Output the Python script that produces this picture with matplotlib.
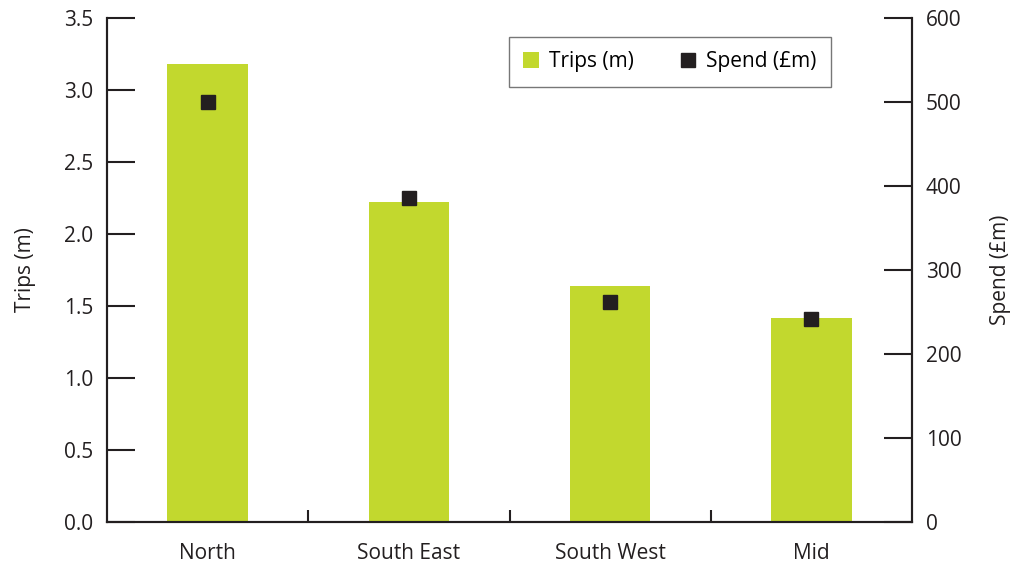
import matplotlib.pyplot as plt
import numpy as np

plt.rcParams['font.family'] = ['Open Sans', 'DejaVu Sans']

regions = ['North', 'South East', 'South West', 'Mid']
trips = [3.18, 2.22, 1.64, 1.42]
spend = [500, 386, 262, 242]

bar_green = '#c2d82e'
ink = '#231f20'
fs = 15

fig = plt.figure(figsize=(10.14, 5.63), dpi=100)
ax = fig.add_axes([0.1055, 0.0728, 0.794, 0.8952])
ax2 = ax.twinx()

x = np.arange(len(regions))
ax.bar(x, trips, width=0.4, color=bar_green, label='Trips (m)', zorder=2)
ax2.plot(x, spend, 's', color=ink, markersize=10, label='Spend (£m)', zorder=3)

ax.set_xlim(-0.5, len(regions) - 0.5)
ax.set_ylim(0, 3.5)
ax.set_yticks(np.arange(0, 3.51, 0.5))
ax.set_yticklabels([f'{v:.1f}' for v in np.arange(0, 3.51, 0.5)])
ax2.set_ylim(0, 600)
ax2.set_yticks(np.arange(0, 601, 100))

ax.set_xticks(x)
ax.set_xticklabels(regions)
ax.set_xticks(np.arange(0.5, len(regions) - 1), minor=True)
ax.tick_params(axis='x', which='major', length=0, pad=15, labelsize=fs, colors=ink)
ax.tick_params(axis='x', which='minor', direction='in', length=9, width=1.5, color=ink)
ax.tick_params(axis='y', direction='in', length=20, width=1.5, pad=10, labelsize=fs, colors=ink)
ax2.tick_params(axis='y', direction='in', length=20, width=1.5, pad=10, labelsize=fs, colors=ink)

for a in (ax, ax2):
    a.spines['top'].set_visible(False)
    for s in ('left', 'right', 'bottom'):
        a.spines[s].set_linewidth(1.5)
        a.spines[s].set_color(ink)

ax.set_ylabel('Trips (m)', fontsize=fs, color=ink, labelpad=20)
ax2.set_ylabel('Spend (£m)', fontsize=fs, color=ink, labelpad=20)

h1, l1 = ax.get_legend_handles_labels()
h2, l2 = ax2.get_legend_handles_labels()
leg = ax2.legend(h1 + h2, l1 + l2, loc='upper left', bbox_to_anchor=(0.499, 0.963),
                 ncol=2, fontsize=fs, frameon=True, fancybox=False,
                 handlelength=0.75, handleheight=0.75, columnspacing=2.2,
                 borderpad=0.7, handletextpad=0.5, borderaxespad=0)
leg.get_frame().set_edgecolor('#555555')
leg.get_frame().set_linewidth(1.0)

fig.savefig('out.png', dpi=100)
